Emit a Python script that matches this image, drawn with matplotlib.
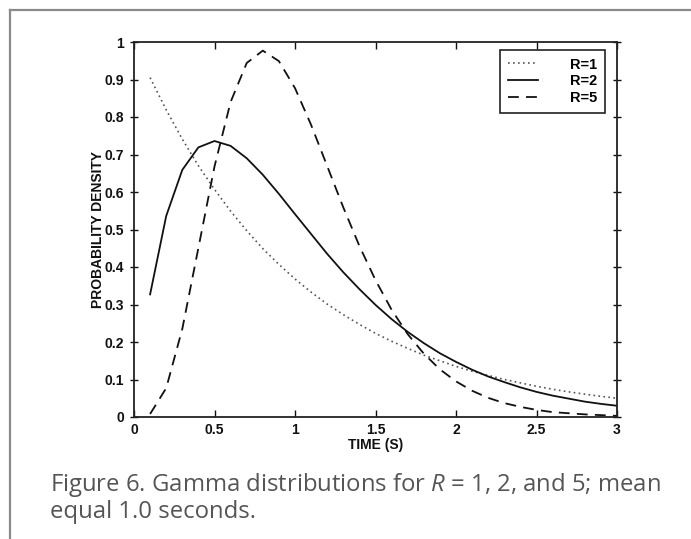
import matplotlib
matplotlib.use("Agg")
import matplotlib.pyplot as plt
from matplotlib.lines import Line2D

t = [0.1, 0.2, 0.3, 0.4, 0.5, 0.6, 0.7, 0.8, 0.9, 1.0,
     1.1, 1.2, 1.3, 1.4, 1.5, 1.6, 1.7, 1.8, 1.9, 2.0,
     2.1, 2.2, 2.3, 2.4, 2.5, 2.6, 2.7, 2.8, 2.9, 3.0]

r1 = [0.905, 0.819, 0.741, 0.670, 0.607, 0.549, 0.497, 0.449, 0.407, 0.368,
      0.333, 0.301, 0.273, 0.247, 0.223, 0.202, 0.183, 0.165, 0.150, 0.135,
      0.122, 0.111, 0.100, 0.091, 0.082, 0.074, 0.067, 0.061, 0.055, 0.050]

r2 = [0.327, 0.536, 0.659, 0.719, 0.736, 0.723, 0.690, 0.646, 0.595, 0.541,
      0.488, 0.435, 0.386, 0.341, 0.299, 0.261, 0.227, 0.197, 0.170, 0.147,
      0.126, 0.108, 0.093, 0.079, 0.067, 0.057, 0.049, 0.041, 0.035, 0.030]

r5 = [0.008, 0.077, 0.235, 0.451, 0.668, 0.840, 0.944, 0.977, 0.949, 0.877,
      0.779, 0.669, 0.559, 0.456, 0.365, 0.286, 0.221, 0.169, 0.127, 0.095,
      0.070, 0.051, 0.037, 0.027, 0.019, 0.013, 0.010, 0.007, 0.005, 0.003]

xticks = [0, 0.5, 1, 1.5, 2, 2.5, 3]
xtick_labels = ["0", "0.5", "1", "1.5", "2", "2.5", "3"]
yticks = [0, 0.1, 0.2, 0.3, 0.4, 0.5, 0.6, 0.7, 0.8, 0.9, 1]
ytick_labels = ["0", "0.1", "0.2", "0.3", "0.4", "0.5", "0.6", "0.7", "0.8", "0.9", "1"]

plt.rcParams['font.family'] = ['Liberation Sans', 'DejaVu Sans']
plt.rcParams['mathtext.fontset'] = 'custom'
plt.rcParams['mathtext.it'] = 'Open Sans:italic'
plt.rcParams['mathtext.rm'] = 'Open Sans'

fig = plt.figure(figsize=(6.91, 5.39), dpi=100)
fig.patch.set_facecolor('white')

# page frame (left and top edges of the boxed figure)
fig.add_artist(Line2D([10/691, 10/691], [0, 1 - 10/539], transform=fig.transFigure,
                      color='#8a8a8a', lw=1.6))
fig.add_artist(Line2D([10/691, 1], [1 - 10/539, 1 - 10/539], transform=fig.transFigure,
                      color='#8a8a8a', lw=1.6))

ax = fig.add_axes([134/691, 1 - 417/539, 483/691, 375/539])

ax.plot(t, r1, color='#555555', lw=1.2, linestyle=(0, (1, 2)), label='R=1')
ax.plot(t, r2, color='#111111', lw=1.3, linestyle='-', label='R=2')
ax.plot(t, r5, color='#111111', lw=1.3, linestyle=(0, (6, 4)), label='R=5')

ax.set_xlim(0, 3)
ax.set_ylim(0, 1)
ax.set_xticks(xticks)
ax.set_xticklabels(xtick_labels, fontweight='bold')
ax.set_yticks(yticks)
ax.set_yticklabels(ytick_labels, fontweight='bold')
ax.tick_params(direction='in', length=5, width=1, labelsize=10, top=True, right=True,
               pad=4, colors='#111111')
ax.tick_params(axis='y', direction='inout', length=6)
for s in ax.spines.values():
    s.set_linewidth(1.3)
    s.set_color('#222222')

ax.set_xlabel('TIME (S)', fontsize=10, fontweight='bold', labelpad=1, color='#111111')
ax.set_ylabel('PROBABILITY DENSITY', fontsize=10, fontweight='bold', labelpad=0,
              color='#111111')

leg = ax.legend(loc='upper right', bbox_to_anchor=(0.975, 0.98),
                prop={'size': 10.5, 'weight': 'bold'},
                frameon=True, fancybox=False, edgecolor='#222222', framealpha=1,
                handlelength=2.0, handletextpad=2.2, labelspacing=0.2,
                borderpad=0.55, borderaxespad=0)
leg.get_frame().set_linewidth(1.2)

fig.text(50/691, 1 - 485/539, 'Figure 6. Gamma distributions for $R$ = 1, 2, and 5; mean',
         fontsize=17.2, family='Open Sans', color='#555555', va='center', ha='left')
fig.text(50/691, 1 - 512/539, 'equal 1.0 seconds.',
         fontsize=17.2, family='Open Sans', color='#555555', va='center', ha='left')

fig.savefig('out.png', dpi=100)
